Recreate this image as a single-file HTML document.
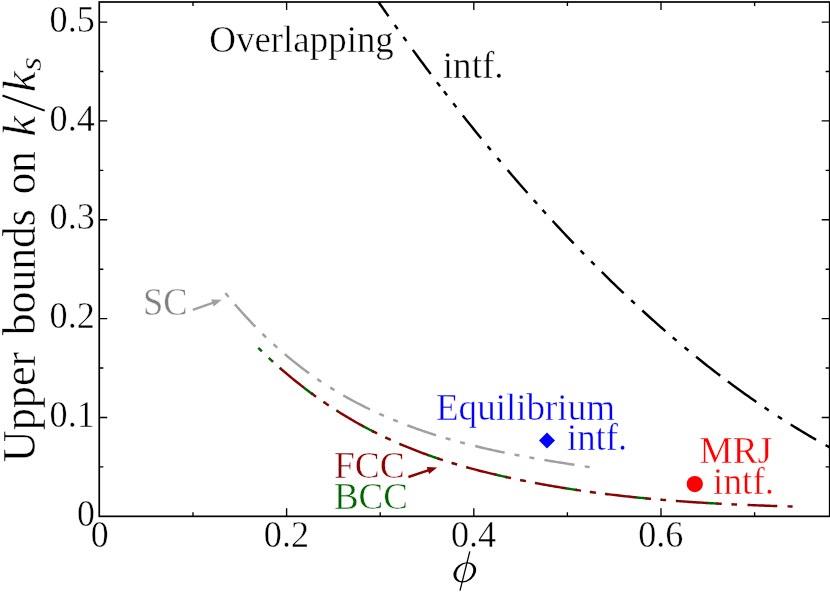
<!DOCTYPE html>
<html><head><meta charset="utf-8"><title>Upper bounds on k/ks</title>
<style>
html,body{margin:0;padding:0;background:#fff;}
body{width:830px;height:593px;overflow:hidden;}
svg{display:block;will-change:transform;}
text{font-family:"Liberation Serif",serif;}
</style></head>
<body>
<svg width="830" height="593" viewBox="0 0 830 593">
<rect width="830" height="593" fill="#fff"/>
<defs><clipPath id="cp"><rect x="99.25" y="2" width="732" height="514.4"/></clipPath></defs>
<g stroke-linecap="butt" stroke-linejoin="round" clip-path="url(#cp)">
<path d="M377.50,0.57 L379.33,3.19 L381.17,5.81 L383.00,8.42 L384.83,11.02 L386.67,13.61 L388.50,16.20" stroke="#000000" stroke-width="2.45" fill="none"/>
<path d="M412.80,49.88 L414.79,52.59 L416.78,55.28 L418.77,57.97 L420.76,60.65 L422.74,63.33 L424.73,65.99 L426.72,68.65 L428.71,71.30 L430.70,73.94" stroke="#000000" stroke-width="2.45" fill="none"/>
<path d="M462.80,115.48 L464.65,117.81 L466.50,120.14 L468.35,122.45 L470.20,124.77 L472.05,127.07 L473.90,129.37 L475.75,131.66 L477.60,133.94 L479.45,136.22 L481.30,138.49" stroke="#000000" stroke-width="2.45" fill="none"/>
<path d="M507.60,170.05 L509.59,172.38 L511.58,174.71 L513.57,177.02 L515.56,179.33 L517.55,181.63 L519.54,183.93 L521.53,186.21 L523.52,188.49 L525.51,190.76 L527.50,193.02" stroke="#000000" stroke-width="2.45" fill="none"/>
<path d="M552.60,220.90 L554.52,222.98 L556.44,225.05 L558.35,227.12 L560.27,229.18 L562.19,231.23 L564.11,233.27 L566.03,235.31 L567.95,237.34 L569.86,239.36 L571.78,241.38 L573.70,243.39" stroke="#000000" stroke-width="2.45" fill="none"/>
<path d="M601.80,271.99 L603.79,273.96 L605.78,275.92 L607.77,277.88 L609.76,279.82 L611.75,281.76 L613.75,283.69 L615.74,285.61 L617.73,287.53 L619.72,289.44 L621.71,291.34 L623.70,293.23" stroke="#000000" stroke-width="2.45" fill="none"/>
<path d="M642.30,310.53 L644.22,312.28 L646.15,314.03 L648.07,315.77 L650.00,317.50 L651.92,319.22 L653.85,320.94 L655.77,322.65 L657.70,324.35 L659.62,326.05 L661.55,327.73 L663.48,329.42 L665.40,331.09" stroke="#000000" stroke-width="2.45" fill="none"/>
<path d="M696.10,356.81 L697.95,358.30 L699.81,359.79 L701.66,361.27 L703.52,362.74 L705.37,364.21 L707.22,365.67 L709.08,367.13 L710.93,368.57 L712.78,370.02 L714.64,371.45 L716.49,372.88 L718.35,374.30 L720.20,375.71" stroke="#000000" stroke-width="2.45" fill="none"/>
<path d="M727.80,381.44 L729.70,382.85 L731.60,384.26 L733.50,385.66 L735.40,387.06 L737.30,388.44 L739.20,389.82 L741.10,391.19 L743.00,392.56 L744.90,393.92 L746.80,395.27 L748.70,396.61 L750.60,397.95 L752.50,399.28 L754.40,400.60 L756.30,401.92" stroke="#000000" stroke-width="2.45" fill="none"/>
<path d="M790.70,424.53 L792.65,425.74 L794.61,426.95 L796.56,428.15 L798.52,429.34 L800.47,430.53 L802.42,431.71 L804.38,432.88 L806.33,434.04 L808.28,435.20 L810.24,436.34 L812.19,437.48 L814.15,438.62 L816.10,439.74" stroke="#000000" stroke-width="2.45" fill="none"/>
<path d="M394.74,24.97 L396.20,27.00 L397.66,29.03" stroke="#000000" stroke-width="2.45" fill="none"/>
<path d="M403.43,37.04 L404.90,39.06 L406.37,41.08" stroke="#000000" stroke-width="2.45" fill="none"/>
<path d="M436.98,82.23 L438.50,84.22 L440.02,86.21" stroke="#000000" stroke-width="2.45" fill="none"/>
<path d="M443.97,91.36 L445.50,93.35 L447.03,95.32" stroke="#000000" stroke-width="2.45" fill="none"/>
<path d="M453.26,103.35 L454.80,105.32 L456.34,107.28" stroke="#000000" stroke-width="2.45" fill="none"/>
<path d="M487.61,146.19 L489.20,148.12 L490.79,150.04" stroke="#000000" stroke-width="2.45" fill="none"/>
<path d="M497.39,157.96 L499.00,159.88 L500.61,161.79" stroke="#000000" stroke-width="2.45" fill="none"/>
<path d="M533.73,200.06 L535.40,201.93 L537.07,203.79" stroke="#000000" stroke-width="2.45" fill="none"/>
<path d="M542.52,209.85 L544.20,211.71 L545.88,213.56" stroke="#000000" stroke-width="2.45" fill="none"/>
<path d="M580.56,250.51 L582.30,252.30 L584.04,254.09" stroke="#000000" stroke-width="2.45" fill="none"/>
<path d="M591.14,261.32 L592.90,263.10 L594.66,264.87" stroke="#000000" stroke-width="2.45" fill="none"/>
<path d="M631.17,300.26 L633.00,301.96 L634.83,303.66" stroke="#000000" stroke-width="2.45" fill="none"/>
<path d="M672.79,337.45 L674.70,339.07 L676.61,340.69" stroke="#000000" stroke-width="2.45" fill="none"/>
<path d="M684.57,347.37 L686.50,348.96 L688.43,350.55" stroke="#000000" stroke-width="2.45" fill="none"/>
<path d="M764.62,407.60 L766.01,408.53 L767.39,409.46 L768.78,410.38" stroke="#000000" stroke-width="2.45" fill="none"/>
<path d="M777.80,416.32 L779.20,417.23 L780.60,418.13 L782.00,419.03" stroke="#000000" stroke-width="2.45" fill="none"/>
<path d="M825.60,445.11 L827.23,446.02 L828.87,446.92 L830.50,447.81" stroke="#000000" stroke-width="2.45" fill="none"/>
<path d="M234.90,304.36 L236.76,306.51 L238.63,308.63 L240.49,310.73 L242.35,312.80 L244.22,314.86 L246.08,316.89 L247.95,318.89 L249.81,320.88 L251.67,322.84 L253.54,324.78 L255.40,326.70" stroke="#a0a0a0" stroke-width="2.45" fill="none"/>
<path d="M284.70,354.10 L286.58,355.68 L288.45,357.25 L290.33,358.80 L292.21,360.33 L294.08,361.84 L295.96,363.33 L297.84,364.81 L299.72,366.26 L301.59,367.70 L303.47,369.12 L305.35,370.53 L307.22,371.91 L309.10,373.28" stroke="#a0a0a0" stroke-width="2.45" fill="none"/>
<path d="M343.30,395.40 L345.21,396.49 L347.11,397.57 L349.02,398.63 L350.93,399.67 L352.84,400.71 L354.74,401.73 L356.65,402.73 L358.56,403.73 L360.46,404.71 L362.37,405.68 L364.28,406.63 L366.19,407.58 L368.09,408.51 L370.00,409.43" stroke="#a0a0a0" stroke-width="2.45" fill="none"/>
<path d="M407.30,425.30 L409.22,426.02 L411.14,426.73 L413.06,427.43 L414.98,428.12 L416.90,428.81 L418.82,429.49 L420.74,430.15 L422.66,430.81 L424.58,431.47 L426.50,432.11 L428.42,432.75 L430.34,433.38 L432.26,434.00 L434.18,434.61 L436.10,435.22" stroke="#a0a0a0" stroke-width="2.45" fill="none"/>
<path d="M475.20,446.06 L477.17,446.54 L479.13,447.01 L481.10,447.48 L483.07,447.94 L485.03,448.39 L487.00,448.84 L488.97,449.28 L490.93,449.72 L492.90,450.16 L494.87,450.58 L496.83,451.01 L498.80,451.43 L500.77,451.84 L502.73,452.25 L504.70,452.65" stroke="#a0a0a0" stroke-width="2.45" fill="none"/>
<path d="M544.40,459.98 L546.28,460.30 L548.16,460.61 L550.04,460.92 L551.92,461.23 L553.81,461.53 L555.69,461.84 L557.57,462.14 L559.45,462.44 L561.33,462.74 L563.21,463.04 L565.09,463.33 L566.98,463.63 L568.86,463.92 L570.74,464.21 L572.62,464.50 L574.50,464.79" stroke="#a0a0a0" stroke-width="2.45" fill="none"/>
<path d="M225.41,293.06 L227.00,295.00 L228.59,296.92" stroke="#a0a0a0" stroke-width="2.45" fill="none"/>
<path d="M262.50,333.81 L264.30,335.56 L266.10,337.29" stroke="#a0a0a0" stroke-width="2.45" fill="none"/>
<path d="M273.54,344.26 L275.40,345.94 L277.26,347.61" stroke="#a0a0a0" stroke-width="2.45" fill="none"/>
<path d="M317.23,379.01 L318.61,379.95 L319.99,380.89 L321.37,381.81" stroke="#a0a0a0" stroke-width="2.45" fill="none"/>
<path d="M330.17,387.51 L331.59,388.40 L333.01,389.28 L334.43,390.15" stroke="#a0a0a0" stroke-width="2.45" fill="none"/>
<path d="M379.31,413.76 L380.84,414.44 L382.36,415.11 L383.89,415.78" stroke="#a0a0a0" stroke-width="2.45" fill="none"/>
<path d="M393.18,419.73 L394.73,420.36 L396.27,420.99 L397.82,421.61" stroke="#a0a0a0" stroke-width="2.45" fill="none"/>
<path d="M445.60,438.11 L447.20,438.58 L448.80,439.04 L450.40,439.50" stroke="#a0a0a0" stroke-width="2.45" fill="none"/>
<path d="M460.08,442.19 L461.69,442.62 L463.31,443.05 L464.92,443.47" stroke="#a0a0a0" stroke-width="2.45" fill="none"/>
<path d="M514.54,454.61 L516.18,454.93 L517.82,455.24 L519.46,455.55" stroke="#a0a0a0" stroke-width="2.45" fill="none"/>
<path d="M529.34,457.37 L530.98,457.66 L532.62,457.95 L534.26,458.24" stroke="#a0a0a0" stroke-width="2.45" fill="none"/>
<path d="M584.73,466.35 L586.38,466.60 L588.02,466.85 L589.67,467.10" stroke="#a0a0a0" stroke-width="2.45" fill="none"/>
<path d="M258.30,347.99 L260.10,349.74 L261.90,351.47" stroke="#006400" stroke-width="2.45" fill="none"/>
<path d="M268.76,357.94 L270.60,359.64 L272.44,361.32" stroke="#006400" stroke-width="2.45" fill="none"/>
<path d="M279.60,367.71 L281.20,369.10" stroke="#006400" stroke-width="2.45" fill="none"/>
<path d="M302.60,386.65 L304.60,388.18 L306.60,389.70 L308.60,391.21 L310.60,392.70 L312.60,394.17" stroke="#006400" stroke-width="2.45" fill="none"/>
<path d="M336.30,410.37 L337.90,411.39" stroke="#006400" stroke-width="2.45" fill="none"/>
<path d="M362.60,425.90 L364.40,426.87 L366.20,427.83 L368.00,428.79 L369.80,429.73 L371.60,430.66 L373.40,431.58" stroke="#006400" stroke-width="2.45" fill="none"/>
<path d="M399.30,443.74 L400.90,444.43" stroke="#006400" stroke-width="2.45" fill="none"/>
<path d="M427.30,454.79 L429.23,455.48 L431.17,456.16 L433.10,456.83 L435.03,457.50 L436.97,458.15 L438.90,458.80" stroke="#006400" stroke-width="2.45" fill="none"/>
<path d="M466.10,467.10 L467.70,467.54" stroke="#006400" stroke-width="2.45" fill="none"/>
<path d="M495.30,474.55 L497.25,475.01 L499.20,475.45 L501.15,475.90 L503.10,476.34 L505.05,476.77 L507.00,477.20" stroke="#006400" stroke-width="2.45" fill="none"/>
<path d="M534.90,482.90 L536.50,483.20" stroke="#006400" stroke-width="2.45" fill="none"/>
<path d="M565.00,488.16 L566.97,488.47 L568.93,488.78 L570.90,489.09 L572.87,489.39 L574.83,489.69 L576.80,489.98" stroke="#006400" stroke-width="2.45" fill="none"/>
<path d="M604.90,493.85 L606.50,494.05" stroke="#006400" stroke-width="2.45" fill="none"/>
<path d="M635.10,497.29 L637.08,497.49 L639.07,497.69 L641.05,497.88 L643.03,498.08 L645.02,498.27 L647.00,498.46" stroke="#006400" stroke-width="2.45" fill="none"/>
<path d="M675.80,500.90 L677.40,501.02" stroke="#006400" stroke-width="2.45" fill="none"/>
<path d="M706.20,502.95 L708.15,503.06 L710.10,503.17 L712.05,503.28 L714.00,503.39 L715.95,503.50 L717.90,503.60" stroke="#006400" stroke-width="2.45" fill="none"/>
<path d="M311.10,393.07 L312.60,394.17" stroke="#006400" stroke-width="2.45" fill="none"/>
<path d="M323.40,401.83 L324.90,402.85" stroke="#006400" stroke-width="2.45" fill="none"/>
<path d="M371.90,430.82 L373.40,431.58" stroke="#006400" stroke-width="2.45" fill="none"/>
<path d="M385.20,437.37 L386.70,438.08" stroke="#006400" stroke-width="2.45" fill="none"/>
<path d="M437.40,458.30 L438.90,458.80" stroke="#006400" stroke-width="2.45" fill="none"/>
<path d="M451.50,462.83 L453.00,463.28" stroke="#006400" stroke-width="2.45" fill="none"/>
<path d="M505.50,476.87 L507.00,477.20" stroke="#006400" stroke-width="2.45" fill="none"/>
<path d="M520.10,479.98 L521.60,480.28" stroke="#006400" stroke-width="2.45" fill="none"/>
<path d="M575.30,489.76 L576.80,489.98" stroke="#006400" stroke-width="2.45" fill="none"/>
<path d="M589.80,491.85 L591.30,492.06" stroke="#006400" stroke-width="2.45" fill="none"/>
<path d="M645.50,498.31 L647.00,498.46" stroke="#006400" stroke-width="2.45" fill="none"/>
<path d="M660.30,499.65 L661.80,499.78" stroke="#006400" stroke-width="2.45" fill="none"/>
<path d="M716.40,503.52 L717.90,503.60" stroke="#006400" stroke-width="2.45" fill="none"/>
<path d="M731.40,504.28 L732.90,504.35" stroke="#006400" stroke-width="2.45" fill="none"/>
<path d="M272.30,361.19 L273.10,361.92" stroke="#8b0000" stroke-width="2.45" fill="none"/>
<path d="M280.30,368.32 L282.23,369.99 L284.17,371.66 L286.10,373.30 L288.03,374.92 L289.97,376.53 L291.90,378.13 L293.83,379.70 L295.77,381.26 L297.70,382.81 L299.63,384.33 L301.57,385.85 L303.50,387.34" stroke="#8b0000" stroke-width="2.45" fill="none"/>
<path d="M337.00,410.82 L338.89,412.01 L340.79,413.20 L342.68,414.37 L344.57,415.52 L346.46,416.66 L348.36,417.79 L350.25,418.91 L352.14,420.02 L354.04,421.11 L355.93,422.19 L357.82,423.26 L359.71,424.31 L361.61,425.35 L363.50,426.38" stroke="#8b0000" stroke-width="2.45" fill="none"/>
<path d="M400.00,444.04 L401.88,444.85 L403.76,445.64 L405.64,446.42 L407.52,447.20 L409.40,447.96 L411.28,448.72 L413.16,449.46 L415.04,450.20 L416.92,450.93 L418.80,451.65 L420.68,452.36 L422.56,453.06 L424.44,453.75 L426.32,454.43 L428.20,455.11" stroke="#8b0000" stroke-width="2.45" fill="none"/>
<path d="M466.80,467.29 L468.76,467.83 L470.72,468.37 L472.68,468.90 L474.64,469.42 L476.60,469.93 L478.56,470.44 L480.52,470.94 L482.48,471.44 L484.44,471.93 L486.40,472.42 L488.36,472.90 L490.32,473.37 L492.28,473.84 L494.24,474.30 L496.20,474.76" stroke="#8b0000" stroke-width="2.45" fill="none"/>
<path d="M535.60,483.03 L537.49,483.39 L539.39,483.74 L541.28,484.09 L543.17,484.43 L545.07,484.77 L546.96,485.11 L548.86,485.44 L550.75,485.78 L552.64,486.10 L554.54,486.43 L556.43,486.75 L558.33,487.06 L560.22,487.38 L562.11,487.69 L564.01,488.00 L565.90,488.30" stroke="#8b0000" stroke-width="2.45" fill="none"/>
<path d="M605.60,493.93 L607.50,494.17 L609.40,494.40 L611.30,494.63 L613.20,494.86 L615.10,495.09 L617.00,495.31 L618.90,495.53 L620.80,495.74 L622.70,495.96 L624.60,496.17 L626.50,496.38 L628.40,496.58 L630.30,496.78 L632.20,496.98 L634.10,497.18 L636.00,497.38" stroke="#8b0000" stroke-width="2.45" fill="none"/>
<path d="M676.50,500.95 L678.41,501.10 L680.33,501.24 L682.24,501.38 L684.15,501.51 L686.06,501.65 L687.98,501.78 L689.89,501.91 L691.80,502.04 L693.71,502.17 L695.62,502.29 L697.54,502.41 L699.45,502.54 L701.36,502.65 L703.27,502.77 L705.19,502.89 L707.10,503.00" stroke="#8b0000" stroke-width="2.45" fill="none"/>
<path d="M747.50,504.99 L749.49,505.07 L751.47,505.15 L753.46,505.23 L755.45,505.30 L757.43,505.38 L759.42,505.45 L761.41,505.52 L763.39,505.59 L765.38,505.66 L767.37,505.73 L769.35,505.80 L771.34,505.86 L773.33,505.92 L775.31,505.99 L777.30,506.05" stroke="#8b0000" stroke-width="2.45" fill="none"/>
<path d="M311.70,393.51 L313.17,394.58 L314.63,395.64 L316.10,396.70" stroke="#8b0000" stroke-width="2.45" fill="none"/>
<path d="M324.00,402.24 L325.60,403.33 L327.20,404.41 L328.80,405.48" stroke="#8b0000" stroke-width="2.45" fill="none"/>
<path d="M372.50,431.12 L374.03,431.90 L375.57,432.68 L377.10,433.44" stroke="#8b0000" stroke-width="2.45" fill="none"/>
<path d="M385.80,437.65 L387.47,438.44 L389.13,439.21 L390.80,439.97" stroke="#8b0000" stroke-width="2.45" fill="none"/>
<path d="M438.00,458.50 L439.63,459.04 L441.27,459.58 L442.90,460.12" stroke="#8b0000" stroke-width="2.45" fill="none"/>
<path d="M452.10,463.01 L453.77,463.52 L455.43,464.02 L457.10,464.51" stroke="#8b0000" stroke-width="2.45" fill="none"/>
<path d="M506.10,477.00 L507.73,477.36 L509.37,477.72 L511.00,478.07" stroke="#8b0000" stroke-width="2.45" fill="none"/>
<path d="M520.70,480.10 L522.43,480.45 L524.17,480.80 L525.90,481.15" stroke="#8b0000" stroke-width="2.45" fill="none"/>
<path d="M575.90,489.85 L577.60,490.10 L579.30,490.35 L581.00,490.60" stroke="#8b0000" stroke-width="2.45" fill="none"/>
<path d="M590.40,491.94 L592.23,492.19 L594.07,492.44 L595.90,492.68" stroke="#8b0000" stroke-width="2.45" fill="none"/>
<path d="M646.10,498.37 L647.73,498.53 L649.37,498.68 L651.00,498.83" stroke="#8b0000" stroke-width="2.45" fill="none"/>
<path d="M660.90,499.70 L662.63,499.85 L664.37,499.99 L666.10,500.14" stroke="#8b0000" stroke-width="2.45" fill="none"/>
<path d="M717.00,503.56 L718.57,503.64 L720.13,503.72 L721.70,503.80" stroke="#8b0000" stroke-width="2.45" fill="none"/>
<path d="M732.00,504.31 L733.67,504.39 L735.33,504.47 L737.00,504.54" stroke="#8b0000" stroke-width="2.45" fill="none"/>
<path d="M787.50,506.35 L789.20,506.39 L790.90,506.44 L792.60,506.49" stroke="#8b0000" stroke-width="2.45" fill="none"/>
</g>
<rect x="99.25" y="2.0" width="730.45" height="514.35" fill="none" stroke="#000" stroke-width="1.7"/>
<path d="M193.00,516.35 v-4.1 M193.00,2.0 v4.1" stroke="#000" stroke-width="1.35"/>
<path d="M286.60,516.35 v-8.0 M286.60,2.0 v8.0" stroke="#000" stroke-width="1.35"/>
<path d="M380.20,516.35 v-4.1 M380.20,2.0 v4.1" stroke="#000" stroke-width="1.35"/>
<path d="M473.80,516.35 v-8.0 M473.80,2.0 v8.0" stroke="#000" stroke-width="1.35"/>
<path d="M567.40,516.35 v-4.1 M567.40,2.0 v4.1" stroke="#000" stroke-width="1.35"/>
<path d="M661.00,516.35 v-8.0 M661.00,2.0 v8.0" stroke="#000" stroke-width="1.35"/>
<path d="M754.60,516.35 v-4.1 M754.60,2.0 v4.1" stroke="#000" stroke-width="1.35"/>
<path d="M99.25,466.88 h4.1 M829.7,466.88 h-4.1" stroke="#000" stroke-width="1.35"/>
<path d="M99.25,417.46 h8.0 M829.7,417.46 h-8.0" stroke="#000" stroke-width="1.35"/>
<path d="M99.25,368.04 h4.1 M829.7,368.04 h-4.1" stroke="#000" stroke-width="1.35"/>
<path d="M99.25,318.62 h8.0 M829.7,318.62 h-8.0" stroke="#000" stroke-width="1.35"/>
<path d="M99.25,269.20 h4.1 M829.7,269.20 h-4.1" stroke="#000" stroke-width="1.35"/>
<path d="M99.25,219.78 h8.0 M829.7,219.78 h-8.0" stroke="#000" stroke-width="1.35"/>
<path d="M99.25,170.36 h4.1 M829.7,170.36 h-4.1" stroke="#000" stroke-width="1.35"/>
<path d="M99.25,120.94 h8.0 M829.7,120.94 h-8.0" stroke="#000" stroke-width="1.35"/>
<path d="M99.25,71.52 h4.1 M829.7,71.52 h-4.1" stroke="#000" stroke-width="1.35"/>
<path d="M99.25,22.10 h8.0 M829.7,22.10 h-8.0" stroke="#000" stroke-width="1.35"/>
<path d="M547,432.4 L555.0,440.4 L547,448.4 L539.0,440.4 Z" fill="#0000ff"/>
<circle cx="694.8" cy="484.05" r="8.15" fill="#ff0000"/>
<path d="M192.80,309.90 L213.40,302.63" stroke="#a0a0a0" stroke-width="2.4" fill="none"/><path d="M221.70,299.70 L213.72,306.55 L211.19,299.38 Z" fill="#a0a0a0"/>
<path d="M408.40,477.00 L428.85,470.18" stroke="#8b0000" stroke-width="2.4" fill="none"/><path d="M437.20,467.40 L429.10,474.10 L426.70,466.89 Z" fill="#8b0000"/>
<path d="M469.8,551.4 L460.0,590.6" stroke="#000" stroke-width="1.3" fill="none"/><g transform="translate(464.8,572.35) skewX(-14)"><path fill="#000" fill-rule="evenodd" d="M-11.1,0 A11.1,10.05 0 1,0 11.1,0 A11.1,10.05 0 1,0 -11.1,0 Z M-8.2,0 A8.2,9.0 0 1,0 8.2,0 A8.2,9.0 0 1,0 -8.2,0 Z"/></g>
<defs><mask id="mk" maskUnits="userSpaceOnUse" x="0" y="0" width="830" height="593"><rect width="830" height="593" fill="#fff"/></mask></defs>
<g mask="url(#mk)" stroke="#fff" stroke-width="0.45" paint-order="fill stroke">
<text x="49.6" y="427.16" font-size="38.2" fill="#000" text-anchor="start" textLength="45.2" lengthAdjust="spacingAndGlyphs">0.1</text>
<text x="49.6" y="328.32" font-size="38.2" fill="#000" text-anchor="start" textLength="45.2" lengthAdjust="spacingAndGlyphs">0.2</text>
<text x="49.6" y="229.48" font-size="38.2" fill="#000" text-anchor="start" textLength="45.2" lengthAdjust="spacingAndGlyphs">0.3</text>
<text x="49.6" y="130.64" font-size="38.2" fill="#000" text-anchor="start" textLength="45.2" lengthAdjust="spacingAndGlyphs">0.4</text>
<text x="49.6" y="31.80" font-size="38.2" fill="#000" text-anchor="start" textLength="45.2" lengthAdjust="spacingAndGlyphs">0.5</text>
<text x="77.0" y="526.00" font-size="38.2" fill="#000" text-anchor="start" textLength="17.9" lengthAdjust="spacingAndGlyphs">0</text>
<text x="90.70" y="546.6" font-size="38.2" fill="#000" text-anchor="start" textLength="17.9" lengthAdjust="spacingAndGlyphs">0</text>
<text x="263.80" y="546.6" font-size="38.2" fill="#000" text-anchor="start" textLength="45.2" lengthAdjust="spacingAndGlyphs">0.2</text>
<text x="451.00" y="546.6" font-size="38.2" fill="#000" text-anchor="start" textLength="45.2" lengthAdjust="spacingAndGlyphs">0.4</text>
<text x="638.20" y="546.6" font-size="38.2" fill="#000" text-anchor="start" textLength="45.2" lengthAdjust="spacingAndGlyphs">0.6</text>
<text x="209.3" y="52.4" font-size="37.5" fill="#000" text-anchor="start" textLength="184.5" lengthAdjust="spacingAndGlyphs">Overlapping</text>
<text x="442.8" y="78.0" font-size="37.5" fill="#000" text-anchor="start" textLength="60.8" lengthAdjust="spacingAndGlyphs">intf.</text>
<text x="142.9" y="314.7" font-size="39.6" fill="#808080" text-anchor="start" textLength="44.6" lengthAdjust="spacingAndGlyphs">SC</text>
<text x="436.0" y="420.0" font-size="37.5" fill="#0000ff" text-anchor="start" textLength="179.0" lengthAdjust="spacingAndGlyphs">Equilibrium</text>
<text x="567.0" y="450.2" font-size="37.5" fill="#0000ff" text-anchor="start" textLength="60.3" lengthAdjust="spacingAndGlyphs">intf.</text>
<text x="699.5" y="463.3" font-size="37.5" fill="#ff0000" text-anchor="start" textLength="72.5" lengthAdjust="spacingAndGlyphs">MRJ</text>
<text x="713.1" y="493.6" font-size="37.5" fill="#ff0000" text-anchor="start" textLength="61.0" lengthAdjust="spacingAndGlyphs">intf.</text>
<text x="333.9" y="478.4" font-size="37.5" fill="#8b0000" text-anchor="start" textLength="70.8" lengthAdjust="spacingAndGlyphs">FCC</text>
<text x="333.9" y="508.9" font-size="37.5" fill="#006400" text-anchor="start" textLength="74.0" lengthAdjust="spacingAndGlyphs">BCC</text>
<g transform="translate(34.6,0) rotate(-90)"><text x="-462.2" y="0" font-size="45.5" fill="#000" text-anchor="start" textLength="110.5" lengthAdjust="spacingAndGlyphs">Upper</text><text x="-335.2" y="0" font-size="45.5" fill="#000" text-anchor="start" textLength="126.0" lengthAdjust="spacingAndGlyphs">bounds</text><text x="-194.3" y="0" font-size="45.5" fill="#000" text-anchor="start" textLength="43.0" lengthAdjust="spacingAndGlyphs">on</text><text x="-136.6" y="0" font-size="45.5" font-style="italic" textLength="20.5" lengthAdjust="spacingAndGlyphs">k</text><path d="M-110.7,10.1 L-95.5,-32.1" stroke="#000" stroke-width="1.9" fill="none"/><text x="-91.9" y="0" font-size="45.5" font-style="italic" textLength="20.5" lengthAdjust="spacingAndGlyphs">k</text><text x="-70.9" y="6.7" font-size="31.8" font-style="italic" textLength="14.0" lengthAdjust="spacingAndGlyphs">s</text></g>
</g>
</svg>
</body></html>
